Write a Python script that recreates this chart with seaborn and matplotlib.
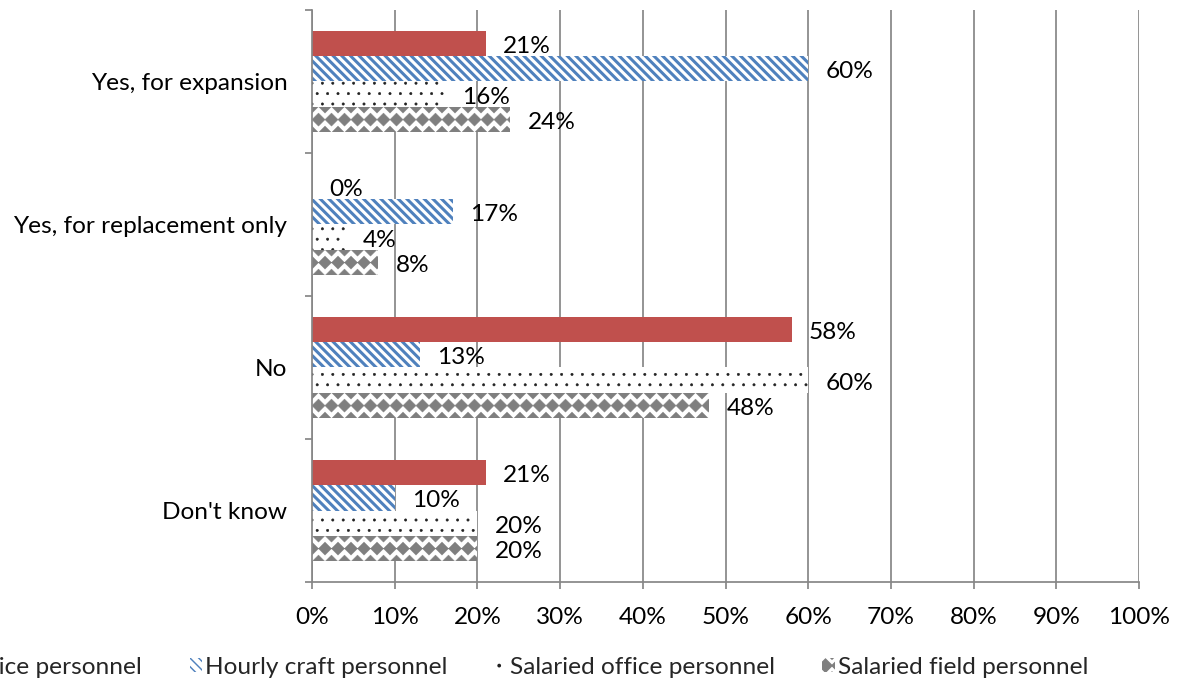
import numpy as np
import pandas as pd
import matplotlib
matplotlib.use("Agg")
import matplotlib.pyplot as plt
import seaborn as sns
from matplotlib import hatch as mhatch
from matplotlib.path import Path
from matplotlib.patches import Patch

# ---------------- data ----------------
categories = ["Yes, for expansion", "Yes, for replacement only", "No", "Don't know"]
series = ["Hourly office personnel", "Hourly craft personnel",
          "Salaried office personnel", "Salaried field personnel"]
hourly_office = [21, 0, 58, 21]
hourly_craft = [60, 17, 13, 10]
salaried_office = [16, 4, 60, 20]
salaried_field = [24, 8, 48, 20]
x_ticks = [0, 10, 20, 30, 40, 50, 60, 70, 80, 90, 100]

DPI = 104  # hatch tile = DPI px -> 13 px pattern pitch


# ---------------- custom hatch shapes ----------------
class Diamonds(mhatch.Shapes):
    filled = True
    size = 0.5
    dy = -0.025

    def __init__(self, hatch, density):
        self.num_rows = hatch.count('*') * 8
        path = Path.unit_regular_polygon(4)
        self.shape_vertices = path.vertices
        self.shape_codes = path.codes
        super().__init__(hatch, density)

    def set_vertices_and_codes(self, vertices, codes):
        super().set_vertices_and_codes(vertices, codes)
        vertices[:, 1] += self.dy


class Dots(mhatch.Shapes):
    filled = True
    size = 0.11

    def __init__(self, hatch, density):
        self.num_rows = hatch.count('.') * 10
        path = Path.unit_circle()
        self.shape_vertices = path.vertices
        self.shape_codes = path.codes
        super().__init__(hatch, density)


mhatch._hatch_types = [t for t in mhatch._hatch_types
                       if t not in (mhatch.Stars, mhatch.SmallFilledCircles)] + [Dots, Diamonds]

# ---------------- theme ----------------
sns.set_theme(style="white")
plt.rcParams["font.family"] = ["Lato", "DejaVu Sans"]
FS = 16.9
GRID = "#868686"

rows = []
for s, vals in zip(series, [hourly_office, hourly_craft, salaried_office, salaried_field]):
    for c, v in zip(categories, vals):
        rows.append({"category": c, "series": s, "value": v})
df = pd.DataFrame(rows)

BS = chr(92)
styles = [
    dict(fc="#C0504D", ec="#C0504D", hatch=None, hlw=1.0),
    dict(fc="white", ec="#4F81BD", hatch=BS * 4, hlw=2.1),
    dict(fc="white", ec="#202020", hatch=".", hlw=0.4),
    dict(fc="white", ec="#7F7F7F", hatch="*", hlw=0.3),
]

fig = plt.figure(figsize=(1187 / DPI, 688 / DPI), dpi=DPI)
ax = fig.add_axes([312 / 1187, 1 - 582 / 688, (1139 - 312) / 1187, (582 - 10) / 688])

sns.barplot(data=df, x="value", y="category", hue="series", order=categories,
            hue_order=series, orient="h", width=0.71, saturation=1,
            palette=[s["fc"] for s in styles], errorbar=None, legend=False, ax=ax)

all_vals = [hourly_office, hourly_craft, salaried_office, salaried_field]
for cont, st, vals in zip(ax.containers, styles, all_vals):
    for bar in cont:
        bar.set_facecolor(st["fc"])
        bar.set_edgecolor(st["ec"])
        bar.set_linewidth(0)
        if st["hatch"]:
            bar.set_hatch(st["hatch"])
            if hasattr(bar, "set_hatch_linewidth"):
                bar.set_hatch_linewidth(st["hlw"])
    anns = ax.bar_label(cont, labels=[f"{v}%" for v in vals], padding=12,
                        fontsize=FS, color="black")
    for a in anns:
        a.xyann = (a.xyann[0], -2)

ax.set_xlim(0, 100)
ax.set_ylim(3.5, -0.5)
ax.set_xticks(x_ticks)
ax.set_xticklabels([f"{t}%" for t in x_ticks], fontsize=FS)
ax.set_yticks(range(len(categories)))
ax.set_yticklabels(categories, fontsize=FS)
ax.set_yticks([-0.5, 0.5, 1.5, 2.5, 3.5], minor=True)
ax.tick_params(axis="y", which="major", length=0, pad=17, colors="black")
ax.tick_params(axis="y", which="minor", length=5, width=1.2, color=GRID, direction="out", left=True)
ax.tick_params(axis="x", which="major", length=5, width=1.2, color=GRID, direction="out",
               bottom=True, pad=12, labelcolor="black")
ax.set_xlabel("")
ax.set_ylabel("")
ax.xaxis.grid(True, color=GRID, linewidth=1.2)
ax.yaxis.grid(False)
ax.set_axisbelow(True)
for side in ["top", "right"]:
    ax.spines[side].set_visible(False)
for side in ["left", "bottom"]:
    ax.spines[side].set_color(GRID)
    ax.spines[side].set_linewidth(1.2)

handles = []
for st in styles:
    p = Patch(facecolor=st["fc"], edgecolor=st["ec"], hatch=st["hatch"], linewidth=0)
    if hasattr(p, "set_hatch_linewidth"):
        p.set_hatch_linewidth(st["hlw"])
    handles.append(p)
fig.legend(handles, series, loc="center right", bbox_to_anchor=(1088 / 1187, 1 - 667 / 688),
           ncol=4, frameon=False, fontsize=FS, handlelength=0.5, handleheight=0.5,
           handletextpad=0.12, columnspacing=1.95, borderaxespad=0, borderpad=0)

fig.savefig("out.png", dpi=DPI)
